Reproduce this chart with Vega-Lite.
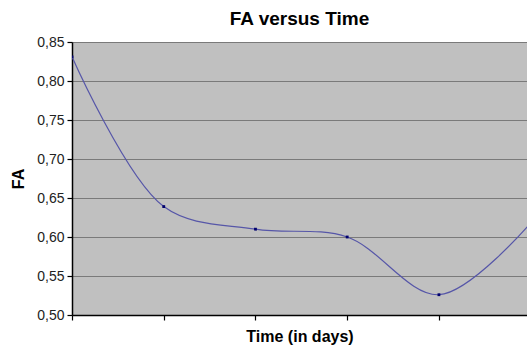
{
  "$schema": "https://vega.github.io/schema/vega-lite/v6.json",
  "autosize": "none",
  "padding": {"left": 72, "top": 42, "right": 0, "bottom": 33},
  "width": 455,
  "height": 273,
  "background": "white",
  "title": {"text": "FA versus Time", "font": "Liberation Sans", "fontSize": 19, "fontWeight": "bold", "color": "black", "anchor": "middle", "offset": 6},
  "config": {
    "view": {"fill": "#c0c0c0", "stroke": null},
    "font": "Liberation Sans"
  },
  "data": {"values": [
    {"t": 0, "fa": 0.831},
    {"t": 1, "fa": 0.639},
    {"t": 2, "fa": 0.61},
    {"t": 3, "fa": 0.6},
    {"t": 4, "fa": 0.526},
    {"t": 5, "fa": 0.618}
  ]},
  "encoding": {
    "x": {"field": "t", "type": "quantitative",
      "scale": {"domain": [0, 4.96], "nice": false, "zero": false},
      "axis": {"title": "Time (in days)", "titleFont": "Liberation Sans", "titleFontSize": 16, "titleFontWeight": "bold", "titleColor": "black", "titlePadding": 8,
        "labels": false, "values": [0, 1, 2, 3, 4], "grid": false, "domainColor": "black", "domainWidth": 1.5, "tickColor": "black", "tickSize": 5, "tickWidth": 1.2}},
    "y": {"field": "fa", "type": "quantitative",
      "scale": {"domain": [0.5, 0.85], "nice": false, "zero": false},
      "axis": {"title": "FA", "titleFont": "Liberation Sans", "titleFontSize": 16, "titleFontWeight": "bold", "titleColor": "black", "titlePadding": 10,
        "values": [0.5, 0.55, 0.6, 0.65, 0.7, 0.75, 0.8, 0.85],
        "labelExpr": "replace(format(datum.value, '.2f'), '.', ',')",
        "labelFont": "Liberation Sans", "labelFontSize": 14, "labelColor": "#222", "labelPadding": 3,
        "grid": true, "gridColor": "#7a7a7a", "gridWidth": 1.2,
        "domainColor": "black", "domainWidth": 1.5, "tickColor": "black", "tickSize": 5, "tickWidth": 1.2}}
  },
  "layer": [
    {"mark": {"type": "line", "interpolate": "catmull-rom", "color": "#5656a8", "strokeWidth": 1.2, "clip": true}},
    {"mark": {"type": "point", "shape": "square", "filled": true, "size": 8, "color": "#00006e", "opacity": 1, "clip": true}}
  ]
}
